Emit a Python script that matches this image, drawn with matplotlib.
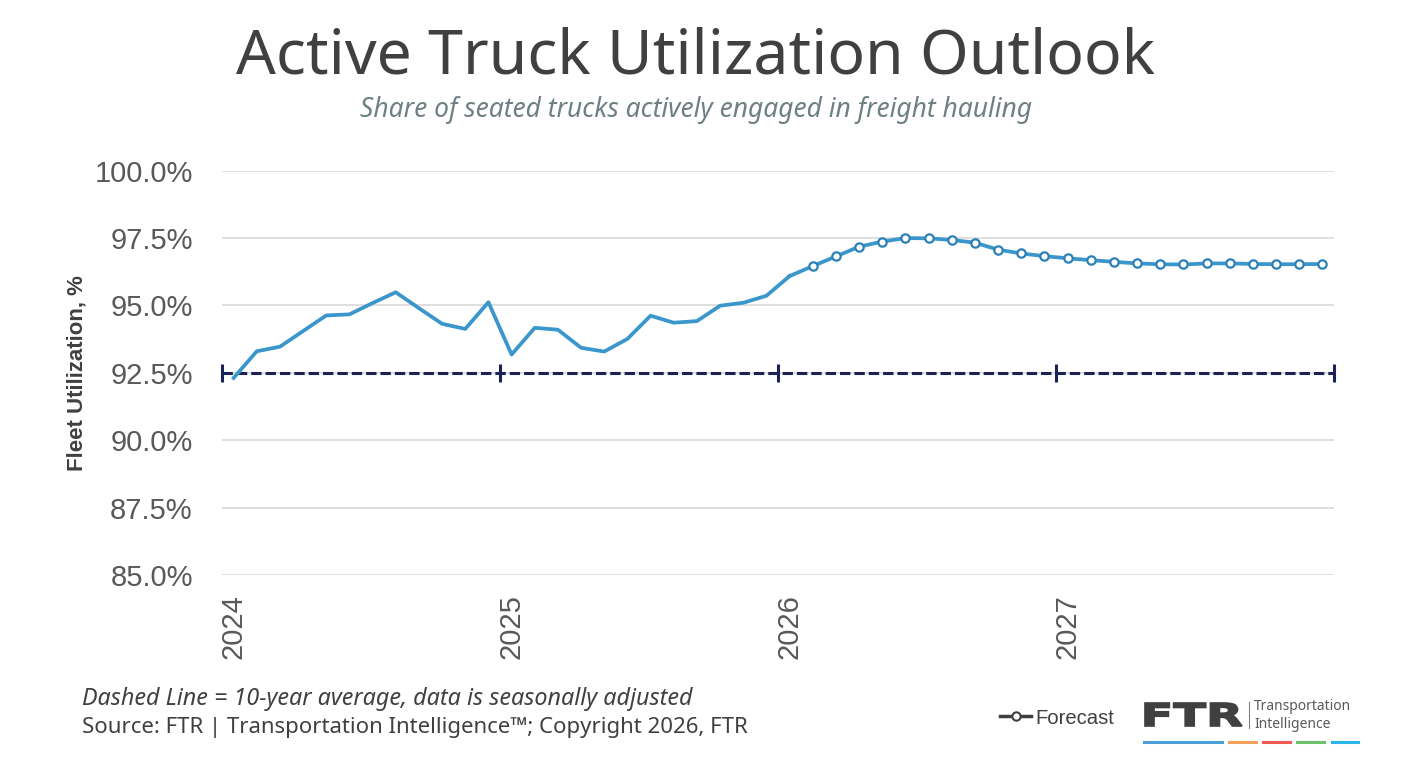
import matplotlib
matplotlib.use("Agg")
import matplotlib.pyplot as plt
from matplotlib.lines import Line2D
from matplotlib.textpath import TextPath
from matplotlib.patches import PathPatch
from matplotlib.font_manager import FontProperties
from matplotlib.transforms import Affine2D, IdentityTransform
import numpy as np

# ---------------- data ----------------
years = ["2024", "2025", "2026", "2027"]
months_per_year = 12
actual = [92.31, 93.30, 93.47, 94.05, 94.63, 94.67, 95.09, 95.49, 94.90, 94.32, 94.13, 95.12,
          93.18, 94.17, 94.10, 93.43, 93.29, 93.76, 94.62, 94.36, 94.42, 94.99, 95.10, 95.36,
          96.09]
forecast = [96.46, 96.82, 97.18, 97.37, 97.50, 97.49, 97.43, 97.33, 97.07, 96.93, 96.83,
            96.75, 96.68, 96.62, 96.56, 96.53, 96.52, 96.56, 96.56, 96.54, 96.53, 96.53, 96.54]
ten_year_avg = 92.5
y_ticks = [85.0, 87.5, 90.0, 92.5, 95.0, 97.5, 100.0]

title = "Active Truck Utilization Outlook"
subtitle = "Share of seated trucks actively engaged in freight hauling"
y_label = "Fleet Utilization, %"
note = "Dashed Line = 10-year average, data is seasonally adjusted"
source = "Source: FTR | Transportation Intelligence\u2122; Copyright 2026, FTR"
legend_label = "Forecast"

# ---------------- styling ----------------
W, H = 1404, 758
fig = plt.figure(figsize=(W / 100, H / 100), dpi=100)
fig.patch.set_facecolor("white")

L, R, T, B = 222, 1334, 170.7, 575
ax = fig.add_axes([L / W, 1 - B / H, (R - L) / W, (B - T) / H])

n_total = len(actual) + len(forecast)
x_all = np.arange(n_total)
x_act = x_all[:len(actual)]
x_fc = x_all[len(actual) - 1:]
fc_vals = [actual[-1]] + forecast

line_col = "#3A96CB"
mark_edge = "#2C80B8"
navy = "#1A2258"
txt = "#404040"

ax.set_xlim(-0.5, n_total - 0.5)
ax.set_ylim(y_ticks[0], y_ticks[-1])

for s in ax.spines.values():
    s.set_visible(False)

ax.set_yticks(y_ticks)
ax.set_yticklabels([f"{v:.1f}%" for v in y_ticks])
ax.yaxis.grid(True, color="#D9D9D9", linewidth=1.2)
ax.set_axisbelow(True)
ax.tick_params(axis="y", length=0, pad=21, labelsize=21, labelcolor="#595959")
for lab in ax.get_yticklabels():
    lab.set_fontfamily("Liberation Sans")

year_pos = [i * months_per_year for i in range(len(years))]
ax.set_xticks(year_pos)
ax.set_xticklabels(years, rotation=90, fontfamily="Liberation Sans")
ax.tick_params(axis="x", length=0, pad=14, labelsize=21, labelcolor="#595959")

ax.set_ylabel(y_label, fontfamily="Liberation Sans", fontweight="bold", fontsize=16,
              color=txt)
ax.yaxis.set_label_coords(-0.121, 0.5)

# 10-year average dashed line with year-boundary tick marks
bounds = [-0.5 + i * months_per_year for i in range(len(years) + 1)]
ax.plot([bounds[0], bounds[-1]], [ten_year_avg, ten_year_avg], color=navy, lw=2.2,
        dashes=(3.4, 1.3), zorder=2, clip_on=False)
ax.plot(bounds, [ten_year_avg] * len(bounds), linestyle="none", marker="|", ms=13,
        mew=2.2, color=navy, zorder=2, clip_on=False)

# series
ax.plot(x_act, actual, color=line_col, lw=2.7, zorder=3)
ax.plot(x_fc, fc_vals, color=line_col, lw=2.7, zorder=3)
ax.plot(x_fc[1:], forecast, linestyle="none", marker="o", ms=6, mfc="white",
        mec=mark_edge, mew=1.6, zorder=4)

# titles
fig.text(696 / W, 1 - 57 / H, title, ha="center", va="center", fontsize=45,
         color=txt, fontfamily="Noto Sans")
fig.text(696 / W, 1 - 110 / H, subtitle, ha="center", va="center", fontsize=19,
         color="#6E8084", style="italic", fontfamily="Noto Sans")

# footnotes
fig.text(82 / W, 1 - 699 / H, note, ha="left", va="center", fontsize=16.8,
         color=txt, style="italic", fontfamily="Noto Sans")
fig.text(82 / W, 1 - 727 / H, source, ha="left", va="center", fontsize=16,
         color=txt, fontfamily="Noto Sans")

# legend
h = Line2D([], [], color=txt, lw=2.5, marker="o", ms=6, mfc="white", mec=txt, mew=1.5)
fig.legend([h], [legend_label], loc="center left", bbox_to_anchor=(1000 / W, 1 - 718 / H),
           frameon=False, handlelength=1.55, handletextpad=0.2, borderpad=0,
           borderaxespad=0, prop={"family": "Liberation Sans", "size": 14.6},
           labelcolor=txt)

# FTR logo (text path stretched to the logo's box, pixel coordinates)
tp = TextPath((0, 0), "FTR", size=100,
              prop=FontProperties(family="DejaVu Sans", weight="black"))
ext = tp.get_extents()
x0, x1, ytop, ybot = 1145, 1242, 703, 726
sx = (x1 - x0) / ext.width
sy = (ybot - ytop) / ext.height
tr = Affine2D().translate(-ext.x0, -ext.y0).scale(sx, sy).translate(x0, H - ybot)
fig.add_artist(PathPatch(tr.transform_path(tp), transform=IdentityTransform(),
                         facecolor=txt, edgecolor=txt, lw=1.2))
fig.add_artist(Line2D([1249 / W, 1249 / W], [1 - 702 / H, 1 - 728 / H],
                      color="#808080", lw=0.8))
fig.text(1254 / W, 1 - 707 / H, "Transportation", ha="left", va="center",
         fontsize=10, color="#595959", fontfamily="Noto Sans")
fig.text(1254 / W, 1 - 724 / H, "Intelligence", ha="left", va="center",
         fontsize=10, color="#595959", fontfamily="Noto Sans")
bars = [(1144, 1222, "#4A9FD5"), (1229, 1256, "#F5A15A"), (1263, 1290, "#EE5A4F"),
        (1297, 1324, "#6CC26A"), (1332, 1358, "#2BB5E8")]
for a, b, c in bars:
    fig.add_artist(Line2D([a / W, b / W], [1 - 742 / H, 1 - 742 / H], color=c, lw=2.2))

fig.savefig("out.png", dpi=100, facecolor="white")
